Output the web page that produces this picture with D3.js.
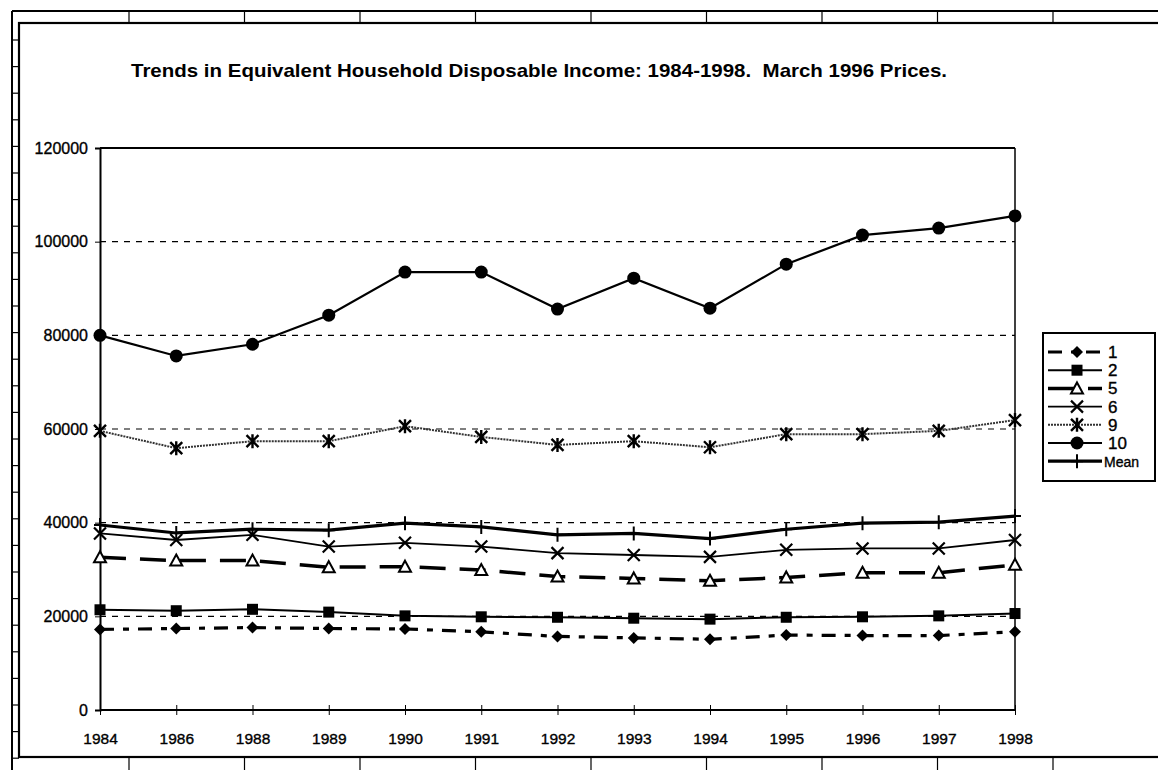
<!DOCTYPE html>
<html>
<head>
<meta charset="utf-8">
<script src="https://cdn.jsdelivr.net/npm/d3@7"></script>
<style>
  body { margin: 0; background: #fff; }
  svg { display: block; font-family: "Liberation Sans", Arial, sans-serif; }
</style>
</head>
<body>
<svg width="1158" height="770"></svg>
<script>
const years = ["1984","1986","1988","1989","1990","1991","1992","1993","1994","1995","1996","1997","1998"];

const s1 = [17200,17400,17600,17400,17300,16700,15700,15400,15100,16000,15900,15900,16700];
const s2 = [21400,21200,21500,20900,20100,19900,19800,19600,19400,19800,19900,20100,20600];
const s5 = [32600,31900,31900,30500,30600,29900,28500,28100,27600,28300,29300,29300,31000];
const s6 = [37700,36300,37400,34900,35700,34900,33500,33100,32700,34200,34500,34500,36300];
const s9 = [59600,55900,57400,57400,60600,58300,56600,57400,56100,58900,58900,59600,61900];
const s10 = [80000,75600,78100,84300,93500,93500,85600,92200,85800,95200,101400,102900,105500];
const sMean = [39500,37800,38600,38400,39900,39100,37400,37700,36600,38600,39900,40100,41400];

const yTicks = [0,20000,40000,60000,80000,100000,120000];
const title = "Trends in Equivalent Household Disposable Income: 1984-1998.  March 1996 Prices.";

const width = 1158;
const height = 770;
const svg = d3.select("svg");

// plot area
const plotLeft = 100, plotRight = 1015, plotTop = 148, plotBottom = 710;

const x = d3.scalePoint().domain(years).range([plotLeft, plotRight]);
const y = d3.scaleLinear().domain([0, 120000]).range([plotBottom, plotTop]);

// spreadsheet cell lines around the chart
const frame = svg.append("g").attr("stroke", "#000").attr("fill", "none");
frame.append("line").attr("x1", 12).attr("x2", width).attr("y1", 11).attr("y2", 11).attr("stroke-width", 2);
frame.append("line").attr("x1", 12).attr("x2", 12).attr("y1", 11).attr("y2", height).attr("stroke-width", 2);
d3.range(129, width, 115.5).forEach(cx => {
    frame.append("line").attr("x1", cx).attr("x2", cx).attr("y1", 11).attr("y2", 23).attr("stroke-width", 1.2);
    frame.append("line").attr("x1", cx).attr("x2", cx).attr("y1", 757).attr("y2", height).attr("stroke-width", 1.2);
});
d3.range(40, height, 26.6).forEach(cy => {
    frame.append("line").attr("x1", 12).attr("x2", 19).attr("y1", cy).attr("y2", cy).attr("stroke-width", 1.2);
});
frame.append("rect").attr("x", 19).attr("y", 23).attr("width", width).attr("height", 734).attr("stroke-width", 2.2);

// title
svg.append("text")
    .attr("x", 539)
    .attr("y", 77)
    .attr("text-anchor", "middle")
    .attr("font-size", 18.5)
    .attr("font-weight", "bold")
    .attr("textLength", 816)
    .attr("lengthAdjust", "spacingAndGlyphs")
    .style("white-space", "pre")
    .text(title);

// gridlines
svg.append("g")
    .selectAll("line")
    .data(yTicks.filter(d => d > 0 && d < 120000))
    .enter()
    .append("line")
    .attr("x1", plotLeft)
    .attr("x2", plotRight)
    .attr("y1", d => y(d))
    .attr("y2", d => y(d))
    .attr("stroke", "#000")
    .attr("stroke-width", 1.2)
    .attr("stroke-dasharray", "6,6");

// top and right border of plot area
svg.append("line").attr("x1", plotLeft).attr("x2", plotRight).attr("y1", y(120000)).attr("y2", y(120000))
    .attr("stroke", "#000").attr("stroke-width", 2);
svg.append("line").attr("x1", plotRight).attr("x2", plotRight).attr("y1", plotTop).attr("y2", plotBottom)
    .attr("stroke", "#000").attr("stroke-width", 1.5);

// axes
const yAxis = d3.axisLeft(y).tickValues(yTicks).tickSize(5).tickPadding(7).tickFormat(d3.format("d"));
const yg = svg.append("g").attr("transform", "translate(" + plotLeft + ",0)").call(yAxis);
yg.select(".domain").attr("stroke-width", 2);
yg.selectAll("text").attr("font-size", 16).attr("fill", "#000")
    .attr("stroke", "#000").attr("stroke-width", 0.35);

const xAxis = d3.axisBottom(x).tickSize(5).tickPadding(18);
const xg = svg.append("g").attr("transform", "translate(0," + plotBottom + ")").call(xAxis);
xg.select(".domain").attr("stroke-width", 2.2).attr("d", "M" + plotLeft + ",0H" + plotRight);
xg.selectAll(".tick line").attr("y1", -5).attr("y2", 5);
xg.selectAll("text").attr("font-size", 15.5).attr("fill", "#000")
    .attr("stroke", "#000").attr("stroke-width", 0.35);

// marker shapes
const drawMarker = (g, kind) => {
    if (kind === "diamond") {
        g.append("path").attr("d", "M0,-6L6,0L0,6L-6,0Z").attr("fill", "#000");
    } else if (kind === "square") {
        g.append("rect").attr("x", -5.5).attr("y", -5.5).attr("width", 11).attr("height", 11).attr("fill", "#000");
    } else if (kind === "triangle") {
        g.append("path").attr("d", "M0,-6L6,5L-6,5Z").attr("fill", "#fff").attr("stroke", "#000").attr("stroke-width", 2);
    } else if (kind === "x") {
        g.append("path").attr("d", "M-6,-6L6,6M-6,6L6,-6").attr("stroke", "#000").attr("stroke-width", 2.2);
    } else if (kind === "star") {
        g.append("path").attr("d", "M-6,-6L6,6M-6,6L6,-6M0,-7V7").attr("stroke", "#000").attr("stroke-width", 2.4);
    } else if (kind === "circle") {
        g.append("circle").attr("r", 6.5).attr("fill", "#000");
    } else if (kind === "plus") {
        g.append("path").attr("d", "M0,-7V7M-6,0H6").attr("stroke", "#000").attr("stroke-width", 2);
    }
};

const series = [
    { name: "1", values: s1, marker: "diamond", color: "#000", width: 3.2, dash: "14,9,6,9" },
    { name: "2", values: s2, marker: "square", color: "#000", width: 2, dash: null },
    { name: "5", values: s5, marker: "triangle", color: "#000", width: 3.5, dash: "26,14" },
    { name: "6", values: s6, marker: "x", color: "#000", width: 1.8, dash: null },
    { name: "9", values: s9, marker: "star", color: "#333", width: 2, dash: "2,1" },
    { name: "10", values: s10, marker: "circle", color: "#000", width: 2.2, dash: null },
    { name: "Mean", values: sMean, marker: "plus", color: "#000", width: 3.2, dash: null }
];

const line = d3.line().x((d, i) => x(years[i])).y(d => y(d));

series.forEach(s => {
    svg.append("path")
        .datum(s.values)
        .attr("fill", "none")
        .attr("stroke", s.color)
        .attr("stroke-width", s.width)
        .attr("stroke-dasharray", s.dash)
        .attr("d", line);

    svg.append("g")
        .selectAll("g")
        .data(s.values)
        .enter()
        .append("g")
        .attr("transform", (d, i) => "translate(" + x(years[i]) + "," + y(d) + ")")
        .each(function () { drawMarker(d3.select(this), s.marker); });
});

// legend
const legend = svg.append("g");
legend.append("rect")
    .attr("x", 1043).attr("y", 333).attr("width", 112).attr("height", 148)
    .attr("fill", "#fff").attr("stroke", "#000").attr("stroke-width", 2);

series.forEach((s, i) => {
    const ly = 352 + i * 18.2;
    legend.append("line")
        .attr("x1", 1048).attr("x2", 1102).attr("y1", ly).attr("y2", ly)
        .attr("stroke", s.color).attr("stroke-width", s.width)
        .attr("stroke-dasharray", s.dash);
    drawMarker(legend.append("g").attr("transform", "translate(1077," + ly + ")"), s.marker);
    legend.append("text")
        .attr("x", s.name === "Mean" ? 1104 : 1108)
        .attr("y", ly + 6)
        .attr("font-size", s.name === "Mean" ? 14 : 17)
        .attr("stroke", "#000").attr("stroke-width", 0.35)
        .text(s.name);
});
</script>
</body>
</html>
